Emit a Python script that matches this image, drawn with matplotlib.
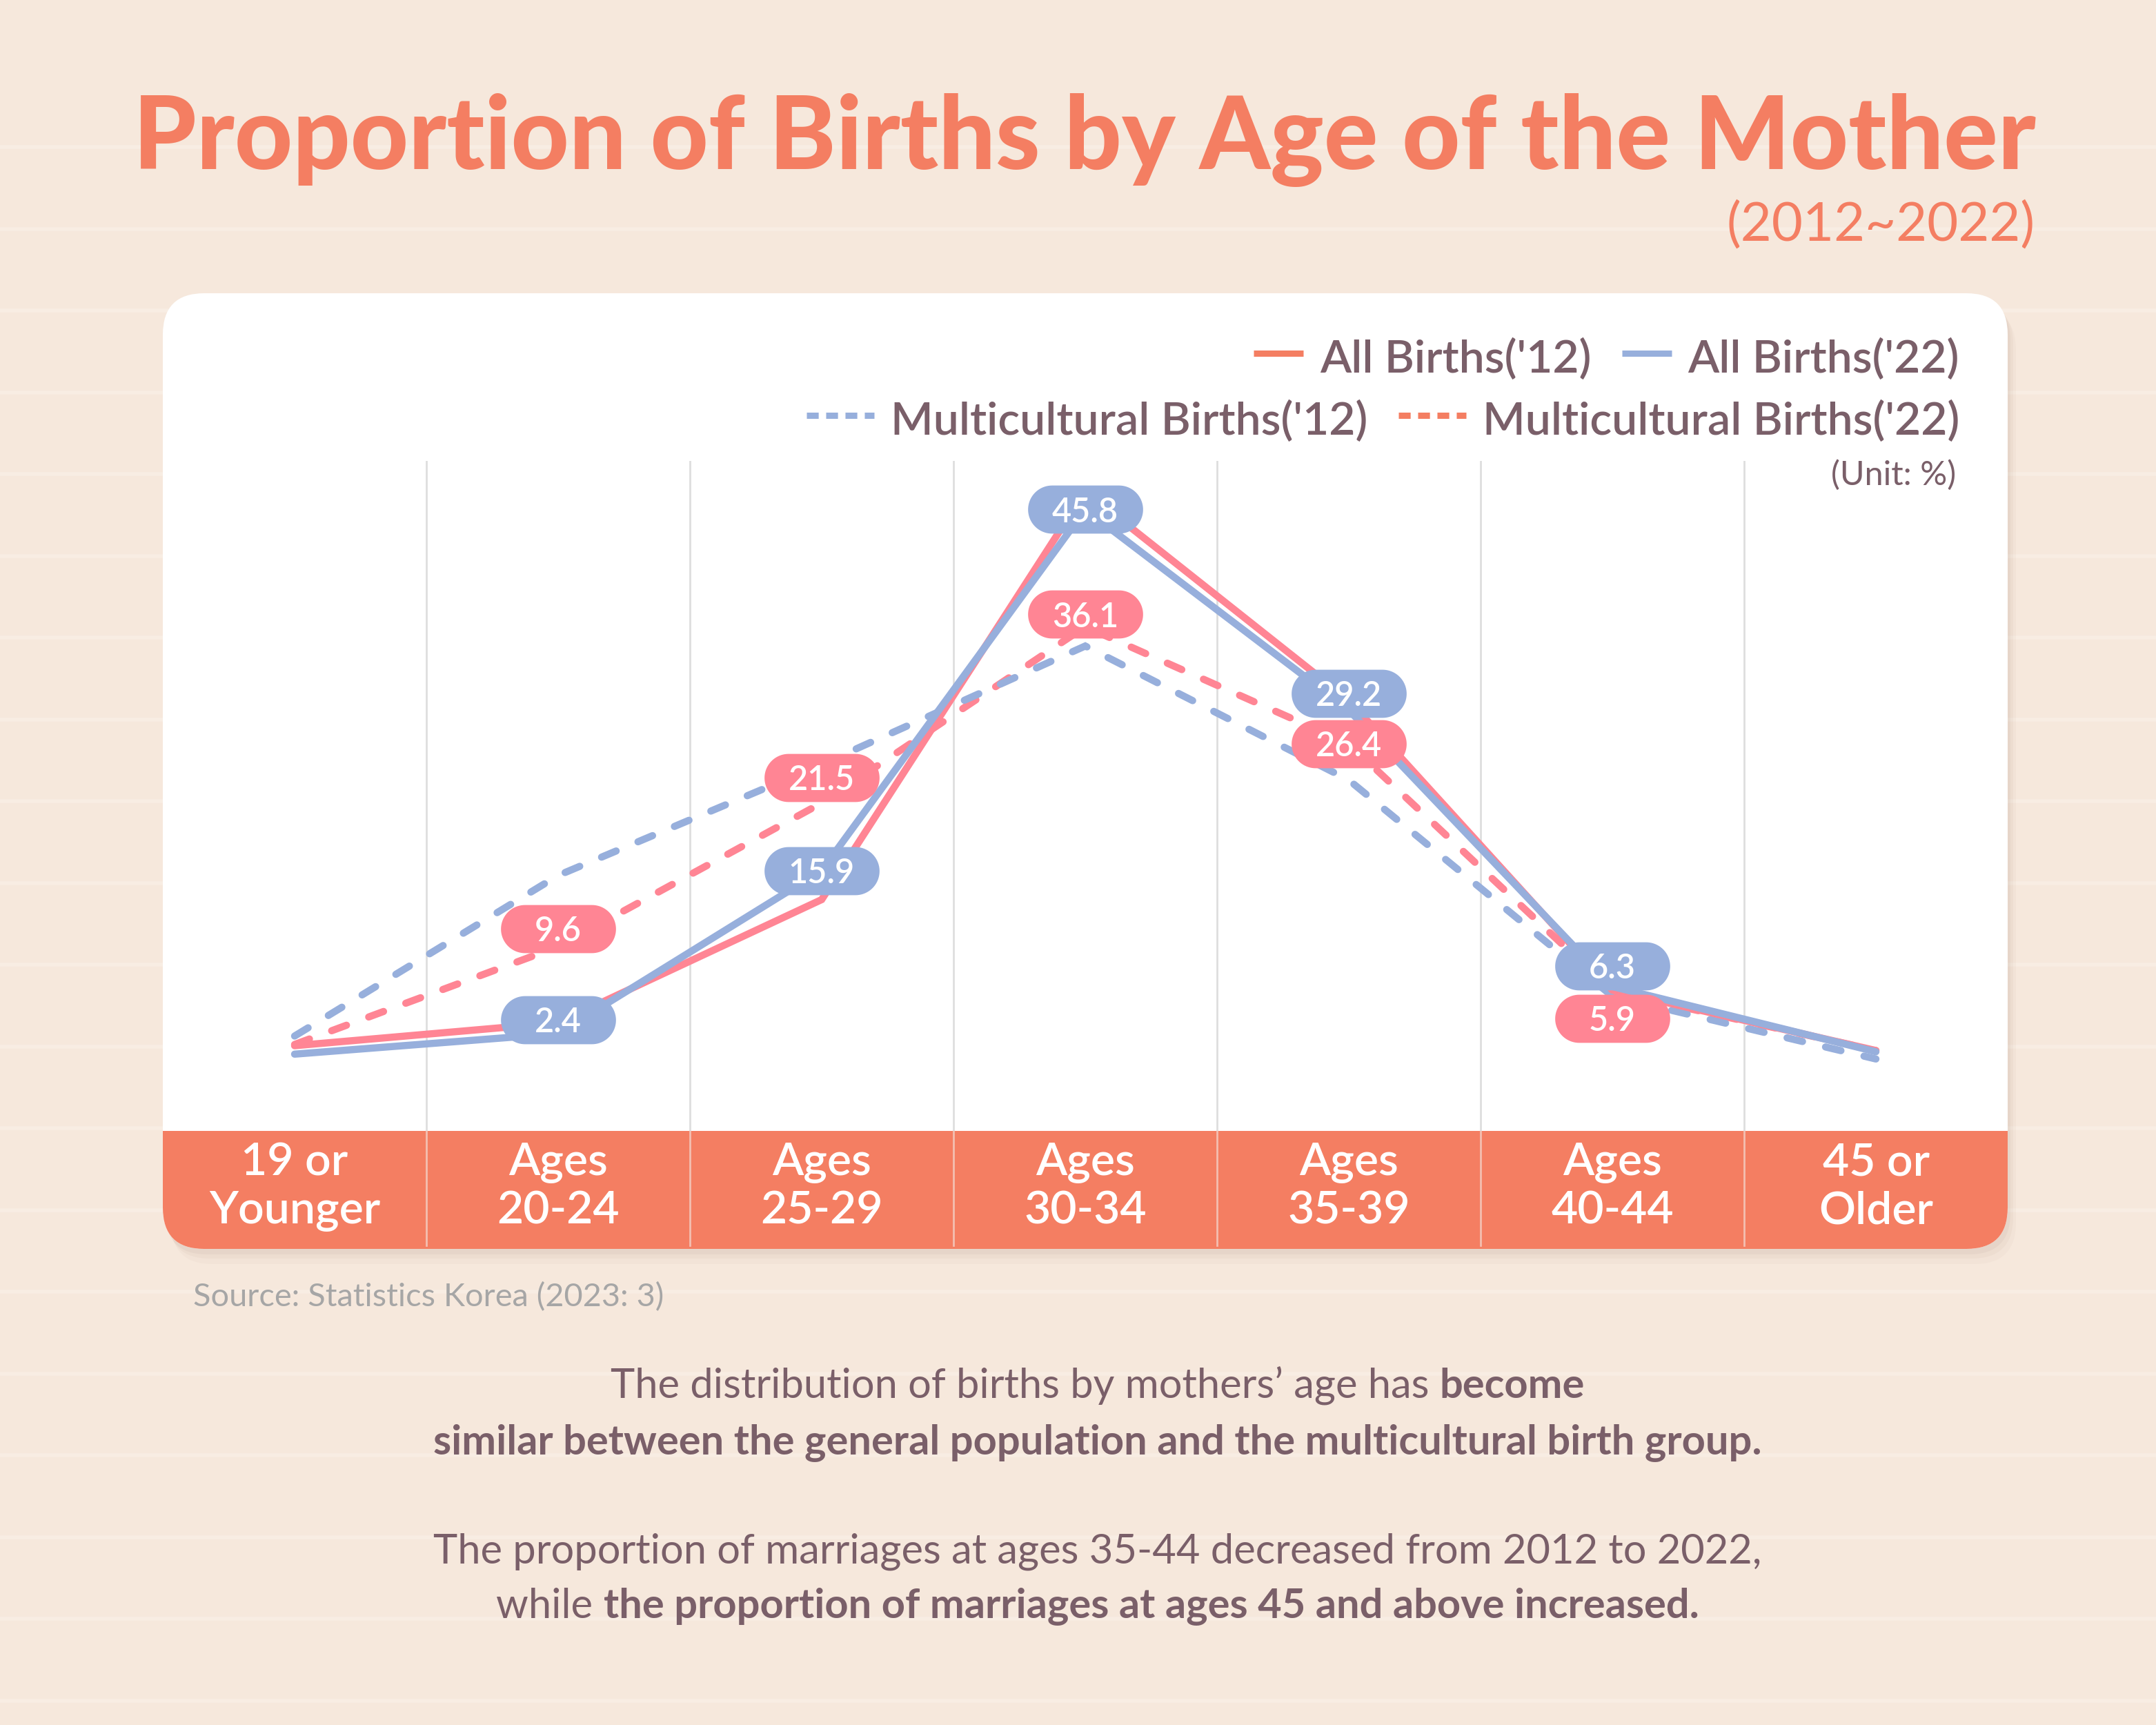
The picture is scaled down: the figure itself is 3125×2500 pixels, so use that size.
"""
Proportion of Births by Age of the Mother (2012~2022) — infographic recreation.
Output: out.png (3125x2500)
"""
import numpy as np

import matplotlib
matplotlib.use("Agg")
import matplotlib.pyplot as plt  # noqa: E402
from matplotlib.patches import FancyBboxPatch, Rectangle  # noqa: E402
from matplotlib.path import Path  # noqa: E402

plt.rcParams["font.family"] = ["Lato", "DejaVu Sans"]

# --- data ---
CATEGORIES = ["19 or\nYounger", "Ages\n20-24", "Ages\n25-29", "Ages\n30-34",
              "Ages\n35-39", "Ages\n40-44", "45 or\nOlder"]
ALL_12 = [1.4, 3.3, 13.5, 47.3, 30.0, 6.0, 1.0]
ALL_22 = [0.7, 2.4, 15.9, 45.8, 29.2, 6.3, 0.9]
MULTI_12 = [2.2, 15.5, 24.7, 34.5, 23.4, 5.5, 0.3]
MULTI_22 = [1.5, 9.6, 21.5, 36.1, 26.4, 5.9, 1.0]
LABELLED = [1, 2, 3, 4, 5]          # categories carrying value tags

TITLE = "Proportion of Births by Age of the Mother"
SUBTITLE = "(2012~2022)"
SOURCE = "Source: Statistics Korea (2023: 3)"
NOTE_LINES = [
    [("The distribution of births by mothers\u2019 age has ", "normal"), ("become", "bold")],
    [("similar between the general population and the multicultural birth group.", "bold")],
    [("The proportion of marriages at ages 35-44 decreased from 2012 to 2022,", "normal")],
    [("while ", "normal"), ("the proportion of marriages at ages 45 and above increased.", "bold")],
]

# --- style ---
W, H, DPI = 3125, 2500, 250
BG = "#f6e8dc"
CORAL = "#f47e62"
PINK = "#ff8594"
BLUE = "#97afdc"
TEXT = "#7a5f69"
GREY = "#a6a6a6"
LW = 3.0
DASH = (0, (2.2, 3.3))

# panel geometry in output pixels
PX0, PX1 = 236, 2910
PY0, BAND_Y, PY1 = 425, 1639, 1810
GRID_TOP = 668
ZERO_PX, PX_PER_UNIT = 1540, 17.5
COL_W = (PX1 - PX0) / 7

# label tag vertical nudges (pixels, negative = up)
BLUE_DY = [-20, 0, 0, -24, -30]
PINK_DY = [-26, -37, -18, 0, 39]


def pill_marker():
    r, c = 0.5, 1.195 - 0.5
    t1 = np.linspace(-np.pi / 2, np.pi / 2, 40)
    t2 = np.linspace(np.pi / 2, 3 * np.pi / 2, 40)
    right = np.column_stack([c + r * np.cos(t1), r * np.sin(t1)])
    left = np.column_stack([-c + r * np.cos(t2), r * np.sin(t2)])
    verts = np.vstack([right, left, right[:1]])
    return Path(verts, closed=True)


def main() -> None:
    fig = plt.figure(figsize=(W / DPI, H / DPI), dpi=DPI)
    fig.patch.set_facecolor(BG)
    renderer = fig.canvas.get_renderer()

    bg = fig.add_axes([0, 0, 1, 1])
    bg.set_xlim(0, W)
    bg.set_ylim(H, 0)
    bg.axis("off")

    # paper texture: faint lighter streaks
    for y in np.arange(213, H, 118.5):
        bg.plot([0, W], [y, y], color="#fbf2ea", lw=1.6, alpha=0.5, zorder=0)

    # panel shadow, panel, category band
    for dx, dy, a in [(4, 8, 0.05), (8, 14, 0.04), (12, 22, 0.03)]:
        bg.add_patch(FancyBboxPatch((PX0 + dx, PY0 + dy), PX1 - PX0, PY1 - PY0,
                                    boxstyle="round,pad=0,rounding_size=60",
                                    fc="#7a5a40", ec="none", alpha=a, zorder=1))
    bg.add_patch(FancyBboxPatch((PX0, PY0), PX1 - PX0, PY1 - PY0,
                                boxstyle="round,pad=0,rounding_size=60",
                                fc="white", ec="none", zorder=2))
    bg.add_patch(FancyBboxPatch((PX0, BAND_Y), PX1 - PX0, PY1 - BAND_Y,
                                boxstyle="round,pad=0,rounding_size=60",
                                fc=CORAL, ec="none", zorder=3))
    bg.add_patch(Rectangle((PX0, BAND_Y), PX1 - PX0, 80, fc=CORAL, ec="none", zorder=3))
    for k in range(1, 7):
        xk = PX0 + k * COL_W
        bg.plot([xk, xk], [BAND_Y, PY1 - 5], color="#f3bfb1", lw=0.8, zorder=4)

    for i, cat in enumerate(CATEGORIES):
        cx = PX0 + (i + 0.5) * COL_W
        top, bottom = cat.split("\n")
        bg.text(cx, 1703, top, ha="center", va="baseline", fontsize=19,
                fontweight="semibold", color="white", zorder=5)
        bg.text(cx, 1773, bottom, ha="center", va="baseline", fontsize=19,
                fontweight="semibold", color="white", zorder=5)

    # title and subtitle, fitted to the reference widths
    t = bg.text(193, 245, TITLE, ha="left", va="baseline", fontsize=40,
                fontweight="black", color=CORAL, zorder=5)
    t.set_fontsize(40 * 2757 / t.get_window_extent(renderer).width)
    st = bg.text(2950, 349, SUBTITLE, ha="right", va="baseline", fontsize=20,
                 color=CORAL, zorder=5)
    st.set_fontsize(20 * 448 / st.get_window_extent(renderer).width)

    # legend (two rows, right aligned)
    rows = [
        (540, 512, [("All Births('12)", CORAL, "-"), ("All Births('22)", BLUE, "-")]),
        (630, 602, [("Multicultural Births('12)", BLUE, ":"),
                    ("Multicultural Births('22)", CORAL, ":")]),
    ]
    for base, ymid, items in rows:
        right = 2840
        for label, col, style in reversed(items):
            tx = bg.text(right, base, label, ha="right", va="baseline", fontsize=19,
                         fontweight="semibold", color=TEXT, zorder=5)
            w = tx.get_window_extent(renderer).width
            sw_end = right - w - 24
            sw_len = 72 if style == "-" else 98
            if style == "-":
                bg.plot([sw_end - sw_len, sw_end], [ymid, ymid], color=col, lw=2.6,
                        solid_capstyle="butt", zorder=5)
            else:
                bg.plot([sw_end - sw_len, sw_end], [ymid, ymid], color=col, lw=2.6,
                        ls=(0, (1.9, 1.2)), dash_capstyle="butt", zorder=5)
            right = sw_end - sw_len - 44
    bg.text(2835, 688, "(Unit: %)", ha="right", va="center", fontsize=14,
            color=TEXT, zorder=5)

    # source and notes
    bg.text(280, 1893, SOURCE, ha="left", va="baseline", fontsize=13.5,
            color=GREY, zorder=5)

    probe = bg.text(0, 0, NOTE_LINES[2][0][0], fontsize=17)
    note_fs = 17 * 1923 / probe.get_window_extent(renderer).width
    probe.remove()
    baselines = [2026, 2108, 2265, 2345]
    for parts, yb in zip(NOTE_LINES, baselines):
        pieces = []
        for txt, wt in parts:
            p = bg.text(0, yb, txt, ha="left", va="baseline", fontsize=note_fs,
                        fontweight=wt, color=TEXT, zorder=5)
            pieces.append((p, p.get_window_extent(renderer).width))
        total = sum(w for _, w in pieces)
        x = 1591 - total / 2
        for p, w in pieces:
            p.set_x(x)
            x += w

    # --- chart area ---
    ax = fig.add_axes([PX0 / W, 1 - BAND_Y / H, (PX1 - PX0) / W, (BAND_Y - GRID_TOP) / H])
    ax.patch.set_alpha(0)
    for s in ax.spines.values():
        s.set_visible(False)
    ax.set_xticks([])
    ax.set_yticks([])
    ax.set_xlim(-0.5, 6.5)
    ax.set_ylim((ZERO_PX - BAND_Y) / PX_PER_UNIT, (ZERO_PX - GRID_TOP) / PX_PER_UNIT)
    for k in range(1, 7):
        ax.axvline(k - 0.5, color="#dedede", lw=0.8, zorder=1)

    x = np.arange(len(CATEGORIES))
    common = dict(lw=LW, solid_joinstyle="miter", solid_capstyle="round",
                  dash_capstyle="round", dash_joinstyle="miter", clip_on=False)
    ax.plot(x, MULTI_22, color=PINK, ls=DASH, zorder=2, **common)
    ax.plot(x, MULTI_12, color=BLUE, ls=DASH, zorder=3, **common)
    ax.plot(x, ALL_12, color=PINK, zorder=4, **common)
    ax.plot(x, ALL_22, color=BLUE, zorder=5, **common)

    pill = pill_marker()
    for series, col, dys in [(ALL_22, BLUE, BLUE_DY), (MULTI_22, PINK, PINK_DY)]:
        for idx, dy in zip(LABELLED, dys):
            ly = series[idx] - dy / PX_PER_UNIT
            ax.plot([idx], [ly], marker=pill, ms=48, mfc=col, mec="none",
                    ls="none", zorder=6, clip_on=False)
            ax.text(idx, ly, f"{series[idx]:.1f}", ha="center", va="center_baseline",
                    fontsize=14, fontweight="semibold", color="white", zorder=7)

    fig.savefig("out.png", dpi=DPI, facecolor=BG)


if __name__ == "__main__":
    main()
